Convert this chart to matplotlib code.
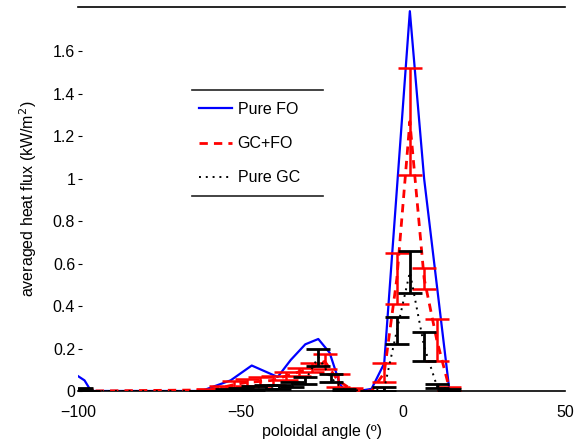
import matplotlib
matplotlib.use("Agg")
import matplotlib.pyplot as plt
from matplotlib.lines import Line2D

plt.rcParams['font.family'] = ['Liberation Sans', 'DejaVu Sans']

# Pure FO (blue, no error bars)
fo_x = [-100, -98, -96, -62, -53, -46.5, -38.5, -34.5, -30, -26, -22.5, -19.5, -18,
        -13.5, -9.6, -5.7, -1.8, 2.2, 6.6, 14.4, 16]
fo_y = [0.07, 0.05, 0.0, 0.0, 0.05, 0.12, 0.066, 0.146, 0.22, 0.245, 0.18, 0.04, 0.0,
        0.0, 0.01, 0.13, 0.95, 1.79, 1.0, 0.0, 0.0]

# GC+FO (red dashed, with error bars)
gcfo_x = [-99, -97, -60, -56, -52, -48, -44, -40, -36, -32, -28, -24, -20, -16,
          -9.6, -5.7, -1.8, 2.2, 6.6, 10.5, 14.4]
gcfo_y = [0.005, 0.0, 0.005, 0.015, 0.03, 0.04, 0.045, 0.05, 0.07, 0.09, 0.11, 0.14, 0.05, 0.01,
          0.0, 0.085, 0.53, 1.27, 0.53, 0.24, 0.01]
gcfo_e = [0.005, 0.0, 0.005, 0.01, 0.015, 0.015, 0.02, 0.02, 0.02, 0.02, 0.02, 0.035, 0.03, 0.005,
          0.0, 0.045, 0.12, 0.25, 0.05, 0.1, 0.01]

# Pure GC (black dotted, with error bars)
gc_x = [-99, -97, -62, -58, -54, -50, -46, -42, -38, -34, -30, -26, -22, -18,
        -9.6, -5.7, -1.8, 2.2, 6.6, 10.5, 14.4]
gc_y = [0.01, 0.0, 0.0, 0.0, 0.005, 0.01, 0.015, 0.02, 0.02, 0.03, 0.05, 0.16, 0.06, 0.005,
        0.0, 0.01, 0.285, 0.56, 0.21, 0.025, 0.005]
gc_e = [0.005, 0.0, 0.0, 0.0, 0.005, 0.005, 0.01, 0.01, 0.01, 0.01, 0.015, 0.04, 0.02, 0.005,
        0.0, 0.01, 0.065, 0.1, 0.07, 0.01, 0.005]

xticks = [-100, -50, 0, 50]
yticks = [0, 0.2, 0.4, 0.6, 0.8, 1.0, 1.2, 1.4, 1.6]
ytick_labels = ['0', '0.2', '0.4', '0.6', '0.8', '1', '1.2', '1.4', '1.6']

fig = plt.figure(figsize=(5.75, 4.44), dpi=100)
ax = fig.add_axes([0.1357, 0.1194, 0.847, 0.865])

l1, = ax.plot(fo_x, fo_y, color='#0000ff', lw=1.6, ls='-', label='Pure FO', zorder=2)
l2, = ax.plot(gcfo_x, gcfo_y, color='#ff0000', lw=2.0, ls=(0, (3, 2.2)), label='GC+FO', zorder=3)
ax.errorbar(gcfo_x, gcfo_y, yerr=gcfo_e, fmt='none', ecolor='#ff0000', elinewidth=1.8,
            capsize=8.5, capthick=1.8, zorder=3)
l3, = ax.plot(gc_x, gc_y, color='black', lw=1.4, ls=(0, (1, 2.5)), label='Pure GC', zorder=4)
ax.errorbar(gc_x, gc_y, yerr=gc_e, fmt='none', ecolor='black', elinewidth=2.0,
            capsize=8.5, capthick=2.0, zorder=4)

ax.set_xlim(-100, 50)
ax.set_ylim(0, 1.81)
ax.set_xticks(xticks)
ax.set_xticklabels(['\u2212100', '\u221250', '0', '50'])
ax.set_yticks(yticks)
ax.set_yticklabels(ytick_labels)
ax.tick_params(axis='both', labelsize=11.5, direction='in', length=3, width=0.8, pad=2)
ax.tick_params(axis='x', length=0, pad=10)
ax.spines['left'].set_visible(False)
ax.spines['right'].set_visible(False)
ax.spines['top'].set_linewidth(1.2)
ax.spines['bottom'].set_linewidth(1.2)

ax.set_xlabel('poloidal angle (º)', fontsize=11.5, labelpad=3)
ax.set_ylabel('averaged heat flux (kW/m$^2$)', fontsize=11.5, labelpad=10)

leg = ax.legend(handles=[l1, l2, l3], frameon=False, fontsize=11.5,
                loc='upper left', bbox_to_anchor=(0.218, 0.79),
                handlelength=2.1, handletextpad=0.35, labelspacing=1.2)

fig.add_artist(Line2D([0.334, 0.562], [0.797, 0.797], transform=fig.transFigure,
                      color='#222222', lw=1.2))
fig.add_artist(Line2D([0.334, 0.562], [0.559, 0.559], transform=fig.transFigure,
                      color='#222222', lw=1.2))

fig.savefig('out.png', dpi=100)
